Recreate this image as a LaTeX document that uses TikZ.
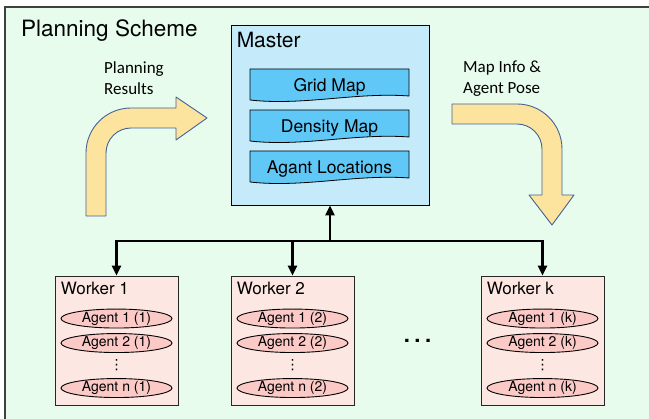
\documentclass[tikz,border=0pt]{standalone}
\usepackage{fontspec}
\setmainfont{TeX Gyre Heros}
\newfontfamily\labelfont{Carlito}
\newfontfamily\dotsfont{DejaVu Sans}
\usetikzlibrary{arrows.meta,shapes.geometric}
\definecolor{schemegreen}{RGB}{232,252,237}
\definecolor{masterblue}{RGB}{197,234,250}
\definecolor{mapblue}{RGB}{96,200,246}
\definecolor{workerpink}{RGB}{253,231,227}
\definecolor{agentpink}{RGB}{251,201,198}
\definecolor{bendyellow}{RGB}{252,228,158}
\definecolor{bendedge}{RGB}{68,98,150}
\tikzstyle{bigtext}=[font=\fontsize{21}{24}\selectfont, anchor=base west, inner sep=0pt]
\tikzstyle{masterbox}=[draw=black, fill=masterblue, line width=0.9pt, minimum width=198pt, minimum height=180pt]
\tikzstyle{docline}=[draw=black, fill=mapblue, line width=0.8pt]
\tikzstyle{doctext}=[inner sep=0pt, font=\fontsize{17.5}{20}\selectfont]
\tikzstyle{workerbox}=[draw=black!85, fill=workerpink, line width=0.9pt, minimum width=123pt, minimum height=129pt]
\tikzstyle{workertext}=[font=\fontsize{17}{20}\selectfont, anchor=base west, inner sep=0pt]
\tikzstyle{agent}=[ellipse, draw=black, fill=agentpink, line width=0.9pt, minimum width=111pt, minimum height=19pt, inner sep=0pt, font=\fontsize{14}{16}\selectfont]
\tikzstyle{vdotstext}=[inner sep=0pt, font=\dotsfont\fontsize{14}{14}\selectfont]
\tikzstyle{bus}=[line width=2.6pt, -{Triangle[length=10pt,width=9pt]}]
\tikzstyle{bentarrow}=[draw=bendedge, fill=bendyellow, line width=0.9pt, line join=round]
\tikzstyle{arrowlabel}=[font=\labelfont\fontsize{17}{21}\selectfont, align=left, anchor=north west, inner sep=0pt]

\begin{document}
\begin{tikzpicture}[x=1pt, y=-1pt]
    \useasboundingbox (0,0) rectangle (649,419);
    \clip (0,0) rectangle (649,419);
% Frame
    \draw[draw=black!75, fill=schemegreen, line width=1.2pt] (5,7) rectangle (670,440);
    \node[bigtext, font=\fontsize{22.5}{26}\selectfont] (title) at (21,37) {Planning Scheme};
% Master
    \node[masterbox] (master) at (330,115) {};
    \node[bigtext] (mastertitle) at ([xshift=6pt,yshift=-23pt]master.north west) {Master};
    \draw[docline] (250,69) -- (409,69) -- (409,96) .. controls (356,92) and (303,106) .. (250,100) -- cycle;
    \draw[docline] (250,110) -- (409,110) -- (409,137) .. controls (356,133) and (303,147) .. (250,141) -- cycle;
    \draw[docline] (250,151) -- (409,151) -- (409,178) .. controls (356,174) and (303,188) .. (250,182) -- cycle;
    \node[doctext] (grid) at (329.5,87) {Grid Map};
    \node[doctext] (density) at (329.5,128) {Density Map};
    \node[doctext] (locations) at (329.5,169) {Agant Locations};
% Bent arrows
    \draw[bentarrow] (86,216) -- (86,153) arc (180:270:45) -- (176,108) -- (176,97) -- (207,118)
        -- (176,140) -- (176,128) -- (131,128) arc (270:180:25) -- (106,216) -- cycle;
    \node[arrowlabel] (results) at (104,62) {Planning\\Results};
    \draw[bentarrow] (452,104) -- (517,104) arc (270:360:45) -- (562,195) -- (574,195) -- (552,225)
        -- (529,195) -- (542,195) -- (542,149) arc (360:270:25) -- (452,124) -- cycle;
    \node[arrowlabel] (mapinfo) at (463,61) {Map Info \&\\Agent Pose};
% Workers
    \node[workerbox] (w1) at (116.5,340.5) {};
    \node[workertext] (w1title) at ([xshift=6pt,yshift=-19pt]w1.north west) {Worker 1};
    \node[agent] (w1a1) at ([yshift=-43pt]w1.north) {Agent 1 (1)};
    \node[agent] (w1a2) at ([yshift=-67.5pt]w1.north) {Agent 2 (1)};
    \node[vdotstext] (w1dots) at ([yshift=-89.5pt]w1.north) {⋮};
    \node[agent] (w1an) at ([yshift=-112.5pt]w1.north) {Agent n (1)};

    \node[workerbox] (w2) at (292.5,340.5) {};
    \node[workertext] (w2title) at ([xshift=6pt,yshift=-19pt]w2.north west) {Worker 2};
    \node[agent] (w2a1) at ([yshift=-43pt]w2.north) {Agent 1 (2)};
    \node[agent] (w2a2) at ([yshift=-67.5pt]w2.north) {Agent 2 (2)};
    \node[vdotstext] (w2dots) at ([yshift=-89.5pt]w2.north) {⋮};
    \node[agent] (w2an) at ([yshift=-112.5pt]w2.north) {Agent n (2)};

    \node[workerbox] (wk) at (542.5,340.5) {};
    \node[workertext] (wktitle) at ([xshift=6pt,yshift=-19pt]wk.north west) {Worker k};
    \node[agent] (wka1) at ([yshift=-43pt]wk.north) {Agent 1 (k)};
    \node[agent] (wka2) at ([yshift=-67.5pt]wk.north) {Agent 2 (k)};
    \node[vdotstext] (wkdots) at ([yshift=-89.5pt]wk.north) {⋮};
    \node[agent] (wkan) at ([yshift=-112.5pt]wk.north) {Agent n (k)};

    \node[anchor=base, inner sep=0pt, font=\bfseries\fontsize{22}{22}\selectfont] (hdots) at (417.5,343) {.\hspace{4.5pt}.\hspace{4.5pt}.};
% Links
    \coordinate (bus) at (330,241);
    \draw[bus] (bus) -- (master.south);
    \draw[bus] (bus) -| (w1.north);
    \draw[bus] (bus) -| (w2.north);
    \draw[bus] (bus) -| (wk.north);
\end{tikzpicture}
\end{document}
